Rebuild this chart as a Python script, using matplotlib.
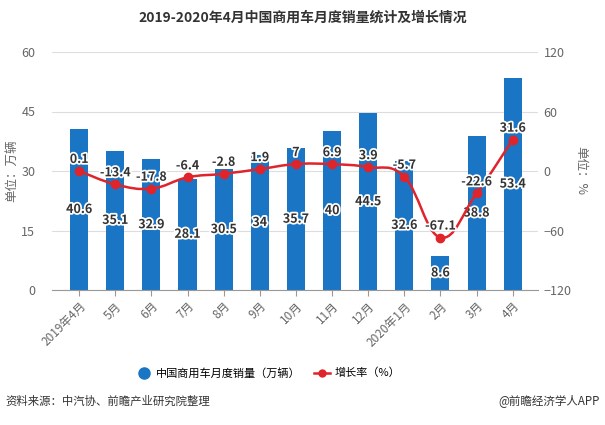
import numpy as np
import matplotlib.pyplot as plt
import matplotlib.patheffects as pe
from matplotlib.path import Path
from matplotlib.patches import PathPatch
from matplotlib.lines import Line2D

plt.rcParams['font.family'] = ['Noto Sans CJK SC', 'DejaVu Sans']

# 数据
months = ['2019年4月', '5月', '6月', '7月', '8月', '9月', '10月', '11月', '12月',
          '2020年1月', '2月', '3月', '4月']
sales = [40.6, 35.1, 32.9, 28.1, 30.5, 34, 35.7, 40, 44.5, 32.6, 8.6, 38.8, 53.4]
growth = [0.1, -13.4, -17.8, -6.4, -2.8, 1.9, 7, 6.9, 3.9, -5.7, -67.1, -22.6, 31.6]
growth_labels = ['0.1', '-13.4', '-17.8', '-6.4', '-2.8', '1.9', '7', '6.9', '3.9',
                 '-5.7', '-67.1', '-22.6', '31.6']

bar_color = '#1a75c4'
line_color = '#e0242b'
gray = '#666666'
halo = [pe.withStroke(linewidth=2.5, foreground='white')]

fig = plt.figure(figsize=(6.05, 4.25), dpi=100)
ax = fig.add_axes([52 / 605, 1 - 290 / 425, (538 - 52) / 605, (290 - 52) / 425])
ax2 = ax.twinx()

x = np.arange(len(months))
ax.bar(x, sales, width=0.5, color=bar_color, zorder=2)
ax.set_ylim(0, 60)
ax.set_yticks([0, 15, 30, 45, 60])
ax.set_xlim(-0.75, 12.7)
ax.grid(axis='y', color='#dddddd', linewidth=0.8, zorder=0)
ax.set_axisbelow(True)
for s in ['top', 'right', 'left']:
    ax.spines[s].set_visible(False)
    ax2.spines[s].set_visible(False)
ax2.spines['bottom'].set_visible(False)
ax.spines['bottom'].set_color('#999999')
ax.set_xticks(x)
ax.set_xticklabels(months, rotation=45, ha='right', rotation_mode='anchor',
                   fontsize=8.5, color=gray)
ax.tick_params(axis='x', length=4, color='#999999', pad=3)
ax.tick_params(axis='y', length=0, labelsize=9, colors=gray, pad=12)
ax.set_ylabel('单位：万辆', fontsize=9, color=gray, labelpad=2)

# 增长率曲线 (平滑)
pts = np.column_stack([x, growth]).astype(float)
verts = [pts[0]]
codes = [Path.MOVETO]
k = 0.2
for i in range(len(pts) - 1):
    p0 = pts[i - 1] if i > 0 else pts[i]
    p1, p2 = pts[i], pts[i + 1]
    p3 = pts[i + 2] if i + 2 < len(pts) else pts[i + 1]
    c1 = p1 + (p2 - p0) * k
    c2 = p2 - (p3 - p1) * k
    verts += [c1, c2, p2]
    codes += [Path.CURVE4] * 3
ax2.add_patch(PathPatch(Path(verts, codes), fill=False, edgecolor=line_color,
                        linewidth=1.8, zorder=3))
ax2.plot(x, growth, 'o', color=line_color, markersize=6, zorder=4)
ax2.set_ylim(-120, 120)
ax2.set_yticks([-120, -60, 0, 60, 120])
ax2.tick_params(axis='y', length=0, labelsize=9, colors=gray, pad=4)
ax2.set_ylabel('单位：%', fontsize=9, color=gray, rotation=-90, va='bottom', labelpad=2)

# 数据标签
for xi, v in zip(x, sales):
    ax.text(xi, v / 2, f'{v:g}', ha='center', va='center', fontsize=9,
            fontweight='bold', color='#333333', path_effects=halo, zorder=5)
for xi, v, lab in zip(x, growth, growth_labels):
    ax2.text(xi, v + 5, lab, ha='center', va='bottom', fontsize=9,
             fontweight='bold', color='#333333', path_effects=halo, zorder=6)

fig.text(0.5, 1 - 18 / 425, '2019-2020年4月中国商用车月度销量统计及增长情况',
         ha='center', va='center', fontsize=10, fontweight='bold', color='#333333')

handles = [Line2D([], [], marker='o', linestyle='none', color=bar_color, markersize=8),
           Line2D([], [], marker='o', color=line_color, markersize=5, linewidth=1.8)]
fig.legend(handles, ['中国商用车月度销量（万辆）', '增长率（%）'], loc='center',
           bbox_to_anchor=(268 / 605, 1 - 373 / 425), ncol=2, frameon=False, fontsize=8,
           handlelength=1.4, columnspacing=1.2, handletextpad=0.4)

fig.text(5 / 605, 1 - 401 / 425, '资料来源：中汽协、前瞻产业研究院整理', ha='left',
         va='center', fontsize=8.2, color='#333333')
fig.text(600 / 605, 1 - 401 / 425, '@前瞻经济学人APP', ha='right', va='center',
         fontsize=8.3, color='#333333')

fig.savefig('out.png', dpi=100)
